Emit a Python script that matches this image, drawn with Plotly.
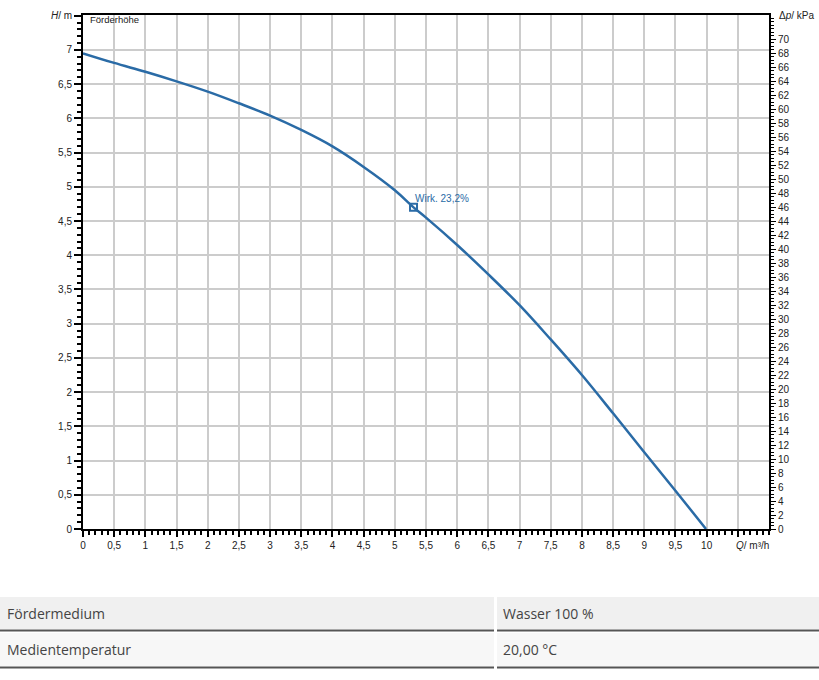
import plotly.graph_objects as go

# ---- data ----
flow_q = [0, 0.5, 1, 1.5, 2, 2.5, 3, 3.5, 4, 4.5, 5, 5.3, 5.5, 6, 6.5, 7, 7.5, 8, 8.5, 9, 9.5, 9.99]
head_h = [6.95, 6.81, 6.68, 6.54, 6.39, 6.22, 6.04, 5.83, 5.59, 5.29, 4.95, 4.70, 4.55, 4.15, 3.72, 3.27, 2.77, 2.25, 1.69, 1.12, 0.56, 0.0]
op_q = [5.3]
op_h = [4.70]
op_label = "Wirk. 23,2%"

x_tickvals = [0, 0.5, 1, 1.5, 2, 2.5, 3, 3.5, 4, 4.5, 5, 5.5, 6, 6.5, 7, 7.5, 8, 8.5, 9, 9.5, 10, 10.5]
x_ticktext = ["0", "0,5", "1", "1,5", "2", "2,5", "3", "3,5", "4", "4,5", "5", "5,5", "6", "6,5",
              "7", "7,5", "8", "8,5", "9", "9,5", "10", ""]
y_tickvals = [0, 0.5, 1, 1.5, 2, 2.5, 3, 3.5, 4, 4.5, 5, 5.5, 6, 6.5, 7, 7.5]
y_ticktext = ["0", "0,5", "1", "1,5", "2", "2,5", "3", "3,5", "4", "4,5", "5", "5,5", "6", "6,5", "7", ""]
kpa_tickvals = list(range(0, 72, 2))
kpa_ticktext = [str(v) for v in kpa_tickvals]

table_rows = [("Fördermedium", "Wasser 100 %"), ("Medientemperatur", "20,00 °C")]

H_MAX = 7.51
KPA_PER_M = 9.78

# ---- layout geometry (pixels) ----
W, Hgt = 819, 680
L, R, T, B = 83, 50, 15, 151
PW = W - L - R
PH = Hgt - T - B


def px(X):
    return (X - L) / PW


def py(Y):
    return (Hgt - B - Y) / PH


BLUE = "#2a6ba6"
TICKFONT = dict(family="Liberation Sans, Arial, sans-serif", size=10, color="#222")

fig = go.Figure()
fig.add_trace(go.Scatter(x=flow_q, y=head_h, mode="lines", line=dict(color=BLUE, width=2.5, shape="spline"),
                         hoverinfo="skip", showlegend=False))
fig.add_trace(go.Scatter(x=op_q, y=op_h, mode="markers",
                         marker=dict(symbol="square-open", size=7, color=BLUE, line=dict(width=2, color=BLUE)),
                         showlegend=False, hoverinfo="skip"))
# invisible trace for the right axis
fig.add_trace(go.Scatter(x=[0], y=[0], yaxis="y2", mode="markers", marker=dict(opacity=0),
                         showlegend=False, hoverinfo="skip"))

shapes = []
annotations = [
    dict(text="<i>H</i>/ m", xref="paper", yref="paper", x=px(74), y=py(16), xanchor="right", yanchor="middle",
         showarrow=False, font=TICKFONT),
    dict(text="Förderhöhe", xref="paper", yref="paper", x=px(88), y=py(20), xanchor="left", yanchor="middle",
         showarrow=False, font=dict(family="Liberation Sans, Arial, sans-serif", size=9.5, color="#222")),
    dict(text="Δ<i>p</i>/ kPa", xref="paper", yref="paper", x=px(777), y=py(16), xanchor="left", yanchor="middle",
         showarrow=False, font=TICKFONT),
    dict(text="<i>Q</i>/ m³/h", xref="paper", yref="paper", x=px(752), y=py(545), xanchor="center", yanchor="middle",
         showarrow=False, font=TICKFONT),
    dict(text=op_label, x=op_q[0], y=op_h[0], xanchor="left", yanchor="bottom", xshift=-1, yshift=1,
         showarrow=False, font=dict(family="Liberation Sans, Arial, sans-serif", size=10, color=BLUE)),
]

# table below the chart
row_geo = [(597, 629, "#f0f0f0"), (633, 666, "#f7f7f7")]
for (top, bot, fill), (left_txt, right_txt) in zip(row_geo, table_rows):
    for x0, x1 in [(0, 494), (497, 819)]:
        shapes.append(dict(type="rect", xref="paper", yref="paper", x0=px(x0), x1=px(x1), y0=py(bot), y1=py(top),
                           fillcolor=fill, line=dict(width=0), layer="below"))
        shapes.append(dict(type="line", xref="paper", yref="paper", x0=px(x0), x1=px(x1), y0=py(bot + 1.5),
                           y1=py(bot + 1.5), line=dict(color="#555", width=2)))
    cy = (top + bot) / 2
    annotations.append(dict(text=left_txt, xref="paper", yref="paper", x=px(5), y=py(cy), xanchor="left",
                            yanchor="middle", showarrow=False,
                            font=dict(family="Open Sans, sans-serif", size=14, color="#444")))
    annotations.append(dict(text=right_txt, xref="paper", yref="paper", x=px(501), y=py(cy), xanchor="left",
                            yanchor="middle", showarrow=False,
                            font=dict(family="Open Sans, sans-serif", size=14, color="#444")))

fig.update_layout(
    width=W, height=Hgt,
    margin=dict(l=L, r=R, t=T, b=B, pad=0),
    paper_bgcolor="white", plot_bgcolor="white",
    separators=",.",
    showlegend=False,
    xaxis=dict(range=[0, 11], tickmode="array", tickvals=x_tickvals, ticktext=x_ticktext,
               showgrid=True, gridcolor="#cccccc", gridwidth=1.5,
               showline=True, linecolor="black", linewidth=2, mirror=True,
               ticks="outside", ticklen=6, tickwidth=1.5, tickcolor="black", tickfont=TICKFONT,
               minor=dict(tickmode="linear", tick0=0, dtick=0.1, ticks="outside", ticklen=4, tickwidth=1.5,
                          tickcolor="black", showgrid=False),
               zeroline=False, fixedrange=True),
    yaxis=dict(range=[0, H_MAX], tickmode="array", tickvals=y_tickvals, ticktext=y_ticktext,
               showgrid=True, gridcolor="#cccccc", gridwidth=1.5,
               showline=True, linecolor="black", linewidth=2, mirror=True,
               ticks="outside", ticklen=7, tickwidth=1.5, tickcolor="black", tickfont=TICKFONT,
               minor=dict(tickmode="linear", tick0=0, dtick=0.1, ticks="outside", ticklen=4, tickwidth=1.5,
                          tickcolor="black", showgrid=False),
               zeroline=False, fixedrange=True),
    yaxis2=dict(range=[0, H_MAX * KPA_PER_M], overlaying="y", side="right", tickmode="array",
                tickvals=kpa_tickvals, ticktext=kpa_ticktext, showgrid=False,
                showline=True, linecolor="black", linewidth=2,
                ticks="outside", ticklen=5, tickwidth=1.2, tickcolor="black", tickfont=TICKFONT,
                minor=dict(tickmode="linear", tick0=0, dtick=0.5, ticks="outside", ticklen=3, tickwidth=1,
                           tickcolor="black", showgrid=False),
                zeroline=False, fixedrange=True),
    shapes=shapes,
    annotations=annotations,
)

fig.write_html("out.html", config={"displayModeBar": False},
               post_script="document.body.style.margin='0px';document.body.style.overflow='hidden';")
